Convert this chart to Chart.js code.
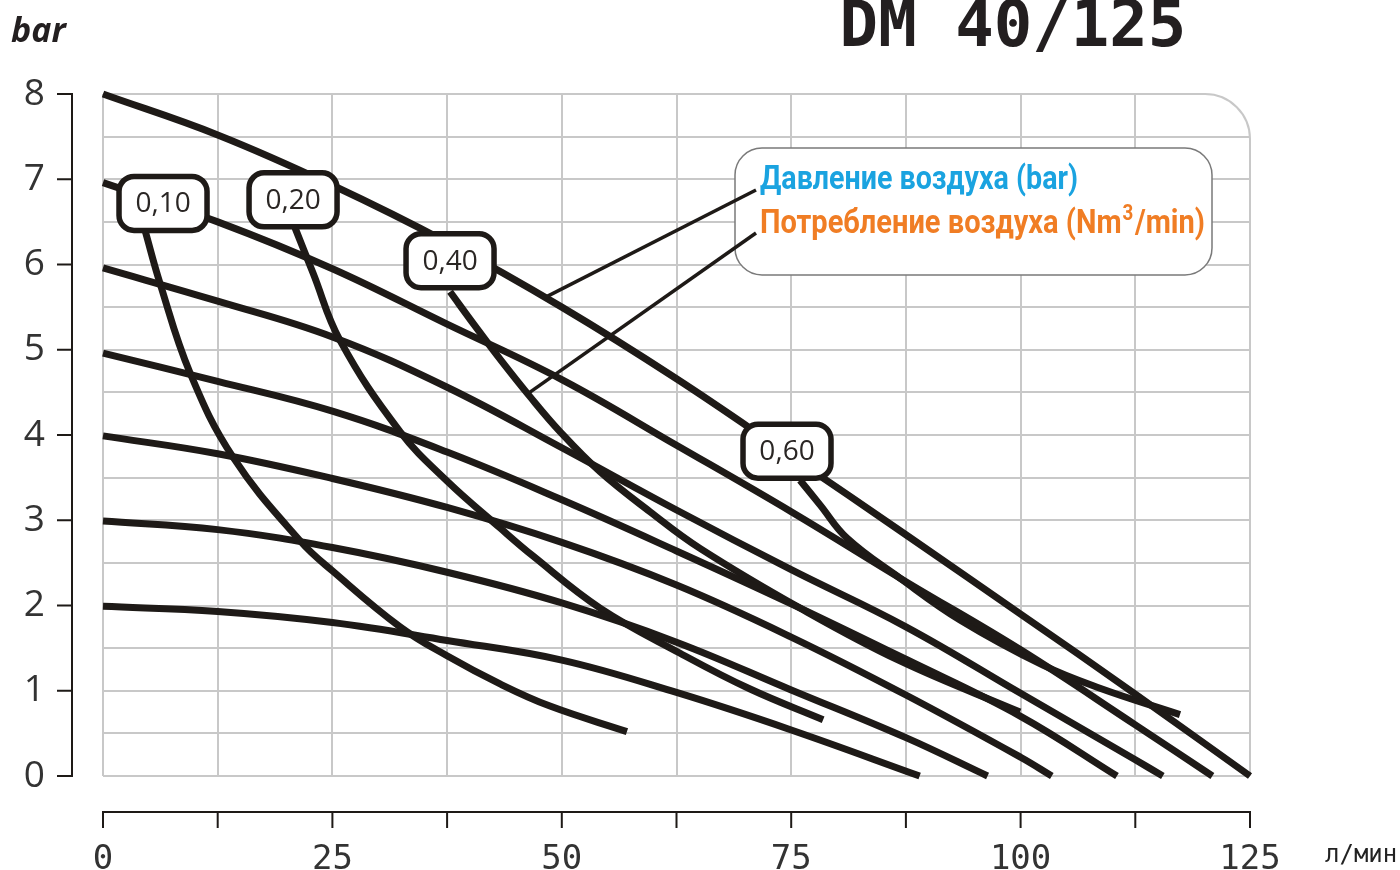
<!DOCTYPE html>
<html>
<head>
<meta charset="utf-8">
<script src="https://cdn.jsdelivr.net/npm/chart.js@4.4.1/dist/chart.umd.min.js"></script>
<style>
  html, body { margin: 0; padding: 0; background: #ffffff; }
  #wrap { width: 1400px; height: 870px; position: relative; }
  canvas { display: block; }
</style>
</head>
<body>
<div id="wrap"><canvas id="c" width="1400" height="870"></canvas></div>
<script>
// ---------- DATA ----------
const chartTitle = 'DM 40/125';
const yUnit = 'bar';
const xUnit = 'л/мин';
const legendPressure = 'Давление воздуха (bar)';
const legendConsumption = ['Потребление воздуха (Nm', '3', '/min)'];

const xTickLabels = [0, 25, 50, 75, 100, 125];
const yTickLabels = [0, 1, 2, 3, 4, 5, 6, 7, 8];

// Pressure curves (bar) : flow l/min -> head bar
const p8x = [0, 12.5, 25, 37.5, 50, 62.5, 75, 87.5, 100, 112.5, 125];
const p8y = [8.0, 7.52, 6.93, 6.26, 5.50, 4.66, 3.75, 2.83, 1.90, 0.96, 0.0];
const p7x = [0, 12.5, 25, 37.5, 50, 62.5, 75, 87.5, 100, 112.5, 120.9];
const p7y = [6.96, 6.50, 5.95, 5.30, 4.65, 3.88, 3.10, 2.28, 1.48, 0.60, 0.0];
const p6x = [0, 12.5, 25, 37.5, 50, 62.5, 75, 87.5, 100, 112.5, 115.5];
const p6y = [5.96, 5.57, 5.15, 4.56, 3.85, 3.12, 2.42, 1.75, 0.97, 0.19, 0.0];
const p5x = [0, 12.5, 25, 37.5, 50, 62.5, 75, 87.5, 100, 110.5];
const p5y = [4.96, 4.63, 4.28, 3.80, 3.24, 2.64, 2.02, 1.37, 0.70, 0.0];
const p4x = [0, 12.5, 25, 37.5, 50, 62.5, 75, 87.5, 100, 103.4];
const p4y = [3.99, 3.78, 3.49, 3.15, 2.74, 2.24, 1.63, 0.95, 0.22, 0.0];
const p3x = [0, 12.5, 25, 37.5, 50, 62.5, 75, 87.5, 96.4];
const p3y = [2.99, 2.89, 2.68, 2.39, 2.03, 1.57, 1.01, 0.45, 0.0];
const p2x = [0, 12.5, 25, 37.5, 50, 62.5, 75, 89];
const p2y = [1.99, 1.93, 1.80, 1.59, 1.36, 0.98, 0.54, 0.0];

// Air consumption curves (Nm3/min)
const consumptionLabels = ['0,10', '0,20', '0,40', '0,60'];
const c10x = [4.58, 6.21, 9.48, 14.17, 21.47, 25.07, 32.37, 37.49, 43.27, 48.71, 57.1];
const c10y = [6.40, 5.78, 4.73, 3.74, 2.76, 2.40, 1.75, 1.41, 1.08, 0.82, 0.52];
const c20x = [20.93, 22.89, 25.83, 32.37, 37.49, 43.27, 46.87, 54.17, 62.89, 70.52, 78.48];
const c20y = [6.43, 5.90, 5.11, 4.04, 3.46, 2.91, 2.58, 1.97, 1.44, 1.02, 0.66];
const c40x = [37.82, 40.54, 43.27, 46.53, 49.80, 54.16, 59.61, 65.06, 75.96, 86.86, 99.93];
const c40y = [5.68, 5.28, 4.89, 4.45, 4.04, 3.57, 3.10, 2.67, 1.97, 1.35, 0.75];
const c60x = [75.96, 78.14, 81.08, 86.86, 93.40, 102.44, 108.65, 117.37];
const c60y = [3.47, 3.18, 2.79, 2.32, 1.83, 1.30, 1.03, 0.72];

// ---------- BUILD ----------
const INK = '#1e1a17';
const GRID = '#c8c8c8';
const toPts = (xs, ys) => xs.map((x, i) => ({ x: x, y: ys[i] }));

const curveStyle = {
  showLine: true, borderColor: INK, borderWidth: 7, pointRadius: 0,
  tension: 0.4, borderCapStyle: 'butt', borderJoinStyle: 'round',
  fill: false, clip: false
};

const pressureSets = [
  ['8 bar', p8x, p8y], ['7 bar', p7x, p7y], ['6 bar', p6x, p6y], ['5 bar', p5x, p5y],
  ['4 bar', p4x, p4y], ['3 bar', p3x, p3y], ['2 bar', p2x, p2y]
].map(([lab, xs, ys]) => Object.assign({ label: lab, data: toPts(xs, ys) }, curveStyle));

// label box offsets (pixels) relative to first point of each consumption curve
const boxOffsets = [[18, -27], [-2, -28], [0, -31], [-13, -29]];
const consumptionSets = [[c10x, c10y], [c20x, c20y], [c40x, c40y], [c60x, c60y]]
  .map(([xs, ys], i) => Object.assign({
    label: consumptionLabels[i], data: toPts(xs, ys), isConsumption: true, boxOffset: boxOffsets[i]
  }, curveStyle));

function roundRect(ctx, x, y, w, h, r) {
  ctx.beginPath();
  ctx.moveTo(x + r, y);
  ctx.lineTo(x + w - r, y);
  ctx.arcTo(x + w, y, x + w, y + r, r);
  ctx.lineTo(x + w, y + h - r);
  ctx.arcTo(x + w, y + h, x + w - r, y + h, r);
  ctx.lineTo(x + r, y + h);
  ctx.arcTo(x, y + h, x, y + h - r, r);
  ctx.lineTo(x, y + r);
  ctx.arcTo(x, y, x + r, y, r);
  ctx.closePath();
}

const decor = {
  id: 'decor',
  beforeDraw(chart) {
    const ctx = chart.ctx;
    ctx.save();
    ctx.fillStyle = '#ffffff';
    ctx.fillRect(0, 0, chart.width, chart.height);
    ctx.restore();
  },
  beforeDatasetsDraw(chart) {
    // rounded top-right corner of the grid area
    const ctx = chart.ctx, a = chart.chartArea, r = 45;
    ctx.save();
    ctx.fillStyle = '#ffffff';
    ctx.beginPath();
    ctx.moveTo(a.right - r, a.top - 3);
    ctx.lineTo(a.right + 3, a.top - 3);
    ctx.lineTo(a.right + 3, a.top + r);
    ctx.arc(a.right - r, a.top + r, r, 0, -Math.PI / 2, true);
    ctx.closePath();
    ctx.fill();
    ctx.strokeStyle = GRID; ctx.lineWidth = 2;
    ctx.beginPath();
    ctx.arc(a.right - r, a.top + r, r, -Math.PI / 2, 0);
    ctx.stroke();
    ctx.restore();
  },
  afterDatasetsDraw(chart) {
    const ctx = chart.ctx;
    const xs = chart.scales.x, ys = chart.scales.y;

    // consumption label boxes
    chart.data.datasets.forEach((ds, i) => {
      if (!ds.isConsumption) return;
      const p = chart.getDatasetMeta(i).data[0];
      const cx = p.x + ds.boxOffset[0], cy = p.y + ds.boxOffset[1];
      const w = 88, h = 54;
      ctx.save();
      roundRect(ctx, cx - w / 2, cy - h / 2, w, h, 15);
      ctx.fillStyle = '#ffffff'; ctx.fill();
      ctx.lineWidth = 5.5; ctx.strokeStyle = INK; ctx.stroke();
      ctx.fillStyle = '#2a2624';
      ctx.font = '28px "Open Sans", "Noto Sans", sans-serif';
      ctx.textAlign = 'center'; ctx.textBaseline = 'middle';
      ctx.fillText(ds.label, cx, cy + 1);
      ctx.restore();
    });

    // legend box with pointers
    const box = { x: 735, y: 148, w: 477, h: 127 };
    const pointers = [
      { fromY: box.y + 42, toX: 48.3, toY: 5.62 },
      { fromY: box.y + 85, toX: 46.5, toY: 4.50 }
    ];
    ctx.save();
    roundRect(ctx, box.x, box.y, box.w, box.h, 27);
    ctx.fillStyle = '#ffffff'; ctx.fill();
    ctx.lineWidth = 1.5; ctx.strokeStyle = '#7a7a7a'; ctx.stroke();
    ctx.strokeStyle = INK; ctx.lineWidth = 3.5; ctx.lineCap = 'butt';
    pointers.forEach(pt => {
      ctx.beginPath();
      ctx.moveTo(box.x + 21, pt.fromY);
      ctx.lineTo(xs.getPixelForValue(pt.toX), ys.getPixelForValue(pt.toY));
      ctx.stroke();
    });

    // legend texts (condensed bold)
    const font = 'bold 34px Roboto, "Noto Sans", sans-serif';
    const supFont = 'bold 22px Roboto, "Noto Sans", sans-serif';
    ctx.textBaseline = 'alphabetic'; ctx.textAlign = 'left';
    ctx.font = font;
    const w1 = ctx.measureText(legendPressure).width;
    ctx.save();
    ctx.translate(760, 189); ctx.scale(318 / w1, 1);
    ctx.fillStyle = '#1aa3e0';
    ctx.fillText(legendPressure, 0, 0);
    ctx.restore();
    ctx.font = font;
    const wa = ctx.measureText(legendConsumption[0]).width;
    const wc = ctx.measureText(legendConsumption[2]).width;
    ctx.font = supFont;
    const wb = ctx.measureText(legendConsumption[1]).width;
    const s2 = 445 / (wa + wb + wc + 3);
    ctx.save();
    ctx.translate(760, 233); ctx.scale(s2, 1);
    ctx.fillStyle = '#f07d24';
    ctx.font = font; ctx.fillText(legendConsumption[0], 0, 0);
    ctx.font = supFont; ctx.fillText(legendConsumption[1], wa + 1, -13);
    ctx.font = font; ctx.fillText(legendConsumption[2], wa + wb + 3, 0);
    ctx.restore();
    ctx.restore();

    // detached axes
    ctx.save();
    ctx.strokeStyle = INK; ctx.lineWidth = 2;
    const axX = 72;
    ctx.beginPath();
    ctx.moveTo(axX, ys.getPixelForValue(8)); ctx.lineTo(axX, ys.getPixelForValue(0));
    yTickLabels.forEach(v => {
      const py = ys.getPixelForValue(v);
      ctx.moveTo(axX - 15, py); ctx.lineTo(axX + 1, py);
    });
    ctx.stroke();
    const axY = 812;
    ctx.beginPath();
    ctx.moveTo(xs.getPixelForValue(0) - 1, axY); ctx.lineTo(xs.getPixelForValue(125) + 1, axY);
    xs.ticks.forEach(t => {
      const px = xs.getPixelForValue(t.value);
      ctx.moveTo(px, axY); ctx.lineTo(px, axY + 16);
    });
    ctx.stroke();

    // titles and units
    ctx.fillStyle = '#231f20';
    ctx.font = 'bold 64px "DejaVu Sans Mono", monospace';
    ctx.textAlign = 'center'; ctx.textBaseline = 'alphabetic';
    ctx.fillText(chartTitle, 1013, 46);
    ctx.font = 'italic bold 34px "Open Sans", "Noto Sans", sans-serif';
    ctx.textAlign = 'left';
    ctx.fillText(yUnit, 11, 42);
    ctx.font = '24px "DejaVu Sans Mono", monospace';
    ctx.fillStyle = '#222';
    ctx.fillText(xUnit, 1325, 862);
    ctx.restore();
  }
};

new Chart(document.getElementById('c').getContext('2d'), {
  type: 'scatter',
  data: { datasets: pressureSets.concat(consumptionSets) },
  options: {
    responsive: false, animation: false, devicePixelRatio: 1,
    layout: { padding: { left: 0, right: 150, top: 94, bottom: 0 } },
    plugins: { legend: { display: false }, tooltip: { enabled: false } },
    scales: {
      x: {
        type: 'linear', min: 0, max: 125, position: 'bottom',
        ticks: {
          stepSize: 12.5, autoSkip: false, maxRotation: 0, minRotation: 0, padding: 64,
          color: '#333333', font: { family: '"DejaVu Sans Mono", monospace', size: 34 },
          callback: v => xTickLabels.includes(v) ? String(v) : ''
        },
        grid: { color: GRID, lineWidth: 2, drawTicks: false },
        border: { display: false },
        afterFit: s => { s.height = 94; }
      },
      y: {
        type: 'linear', min: 0, max: 8,
        ticks: {
          stepSize: 0.5, autoSkip: false, padding: 58,
          color: '#333333', font: { family: '"Open Sans", "Noto Sans", sans-serif', size: 37 },
          callback: v => yTickLabels.includes(v) ? String(v) : ''
        },
        grid: { color: GRID, lineWidth: 2, drawTicks: false },
        border: { display: false },
        afterFit: s => { s.width = 103; }
      }
    }
  },
  plugins: [decor]
});
</script>
</body>
</html>
